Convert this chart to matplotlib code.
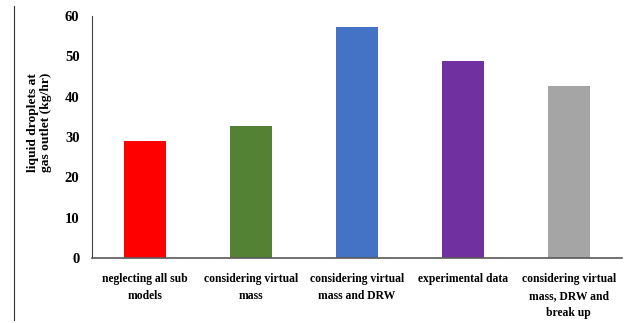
import matplotlib
matplotlib.use('Agg')
import matplotlib.pyplot as plt
from matplotlib.lines import Line2D

categories = ['neglecting all sub\nmodels', 'considering virtual\nmass',
              'considering virtual\nmass and DRW', 'experimental data',
              'considering virtual\nmass, DRW and\nbreak up']
values = [29.0, 32.7, 57.3, 49.0, 42.6]
colors = ['#FF0000', '#548235', '#4472C4', '#7030A0', '#A5A5A5']
yticks = [0, 10, 20, 30, 40, 50, 60]

plt.rcParams['font.family'] = ['Liberation Serif', 'DejaVu Serif']
plt.rcParams['font.weight'] = 'bold'

fig = plt.figure(figsize=(6.43, 3.23), dpi=100)
ax = fig.add_axes([0.143, 0.201, 0.824, 0.749])

x = range(len(categories))
ax.bar(x, values, width=0.4, color=colors)

ax.set_xlim(-0.5, len(categories) - 0.5)
ax.set_ylim(0, 60)
ax.set_yticks(yticks)
ax.set_xticks(list(x))
ax.set_xticklabels(categories, fontsize=8.4, fontweight='bold', linespacing=1.55)
ax.tick_params(axis='y', length=0, labelsize=10.5, pad=9)
ax.tick_params(axis='x', length=0, pad=11)

for side in ['top', 'right']:
    ax.spines[side].set_visible(False)
ax.spines['left'].set_color('#404040')
ax.spines['bottom'].set_color('#595959')
ax.spines['left'].set_linewidth(0.8)
ax.spines['bottom'].set_linewidth(1.2)

ax.set_ylabel('liquid droplets at\ngas outlet (kg/hr)', fontsize=9.7,
              fontweight='bold', linespacing=1.05)
ax.yaxis.set_label_coords(-0.076, 0.56)

# thin border line on the left side of the figure
fig.add_artist(Line2D([14 / 643, 14 / 643], [0.01, 0.98], color='#333333',
                      linewidth=0.8))

fig.savefig('out.png', dpi=100)
